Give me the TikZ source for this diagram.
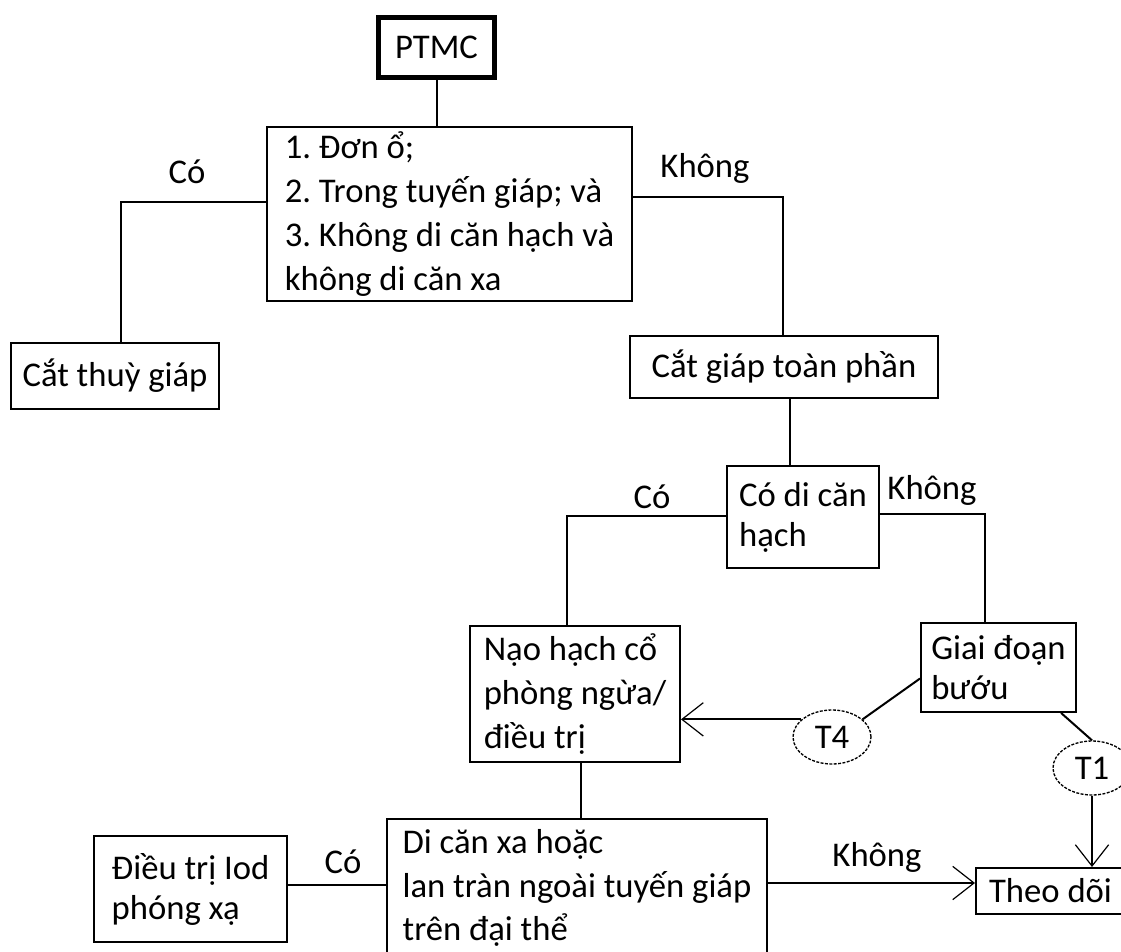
\documentclass[tikz,border=0pt]{standalone}
\usepackage{fontspec}
\setmainfont{Carlito}
\usetikzlibrary{arrows.meta,shapes.geometric}
\frenchspacing
\begin{document}
\begin{tikzpicture}[x=0.75pt,y=-0.75pt,
  every node/.style={font=\fontsize{26}{33}\selectfont},
  tight/.style={font=\fontsize{26}{30}\selectfont},
  box/.style={draw,line width=1.5pt,rectangle,align=left,inner sep=0pt},
  oval/.style={draw,ellipse,dashed,dash pattern=on 2.2pt off 1.1pt,line width=1pt,inner sep=0pt,minimum width=58.5pt,minimum height=40.5pt},
  conn/.style={line width=1.5pt},
  arr/.style={line width=1.5pt,-{Straight Barb[length=16pt,width=25pt,line width=0.9pt]}},
  lbl/.style={inner sep=0pt}
]
\useasboundingbox (0,0) rectangle (1121,952);
\clip (0,0) rectangle (1121,952);

\node[box,line width=3.75pt,minimum width=87pt,minimum height=45pt,align=center] (ptmc) at (436.5,47.5) {PTMC};
\node[box,minimum width=273.75pt,minimum height=130.5pt] (big) at (449.5,214)
  {1. Đơn ổ;\\2. Trong tuyến giáp; và\\3. Không di căn hạch và\\không di căn xa};
\node[box,minimum width=156pt,minimum height=49.5pt] (thuy) at (115,376) {Cắt thuỳ giáp};
\node[box,minimum width=231pt,minimum height=46.5pt] (toan) at (784,367) {Cắt giáp toàn phần};
\node[box,tight,minimum width=114pt,minimum height=76.5pt] (cohach) at (803,517) {Có di căn\\hạch};
\node[box,minimum width=157.5pt,minimum height=102pt] (nao) at (575,694) {Nạo hạch cổ\\phòng ngừa/\\điều trị};
\node[box,tight,minimum width=116.25pt,minimum height=66.75pt] (giai) at (998.5,667.5) {Giai đoạn\\bướu};
\node[box,minimum width=111.75pt,minimum height=34.5pt] (theo) at (1050.5,891) {Theo dõi};
\node[box,font=\fontsize{26}{32.5}\selectfont,minimum width=285pt,minimum height=103.5pt] (dican) at (577,888)
  {Di căn xa hoặc\\lan tràn ngoài tuyến giáp\\trên đại thể};
\node[box,tight,minimum width=144.75pt,minimum height=79.5pt] (dieutri) at (190.5,889) {Điều trị Iod\\phóng xạ};

\node[oval] (T4) at (832,737) {T4};
\node[oval] (T1) at (1092,768) {T1};

\node[lbl] (l1) at (187,172) {Có};
\node[lbl] (l2) at (705,168) {Không};
\node[lbl] (l3) at (652,497) {Có};
\node[lbl] (l4) at (932,490) {Không};
\node[lbl] (l5) at (877,857) {Không};
\node[lbl] (l6) at (343,862) {Có};

\coordinate (c1) at (121,202);
\coordinate (c2) at (783,197);
\coordinate (c3) at (790,400);
\coordinate (c4) at (567,516);
\coordinate (c5) at (985,514);
\coordinate (c7) at (581,790);
\coordinate (c8) at (870,883);
\coordinate (c9) at (300,885);

\draw[conn] (ptmc.south) -- (ptmc.south |- big.north);
\draw[conn] (big.west |- c1) -- (c1) -- (c1 |- thuy.north);
\draw[conn] (big.east |- c2) -- (c2) -- (c2 |- toan.north);
\draw[conn] (c3 |- toan.south) -- (c3 |- cohach.north);
\draw[conn] (cohach.west |- c4) -- (c4) -- (c4 |- nao.north);
\draw[conn] (cohach.east |- c5) -- (c5) -- (c5 |- giai.north);
\draw[conn] (giai.188) -- (T4.30);
\draw[conn] (giai.-36) -- (T1.north);
\draw[arr] (T4.150) -- (T4.150 -| nao.east);
\draw[arr] (T1.south) -- (T1.south |- theo.north);
\draw[conn] (c7 |- nao.south) -- (c7 |- dican.north);
\draw[arr] (dican.east |- c8) -- (theo.west |- c8);
\draw[conn] (dieutri.east |- c9) -- (dican.west |- c9);
\end{tikzpicture}
\end{document}
